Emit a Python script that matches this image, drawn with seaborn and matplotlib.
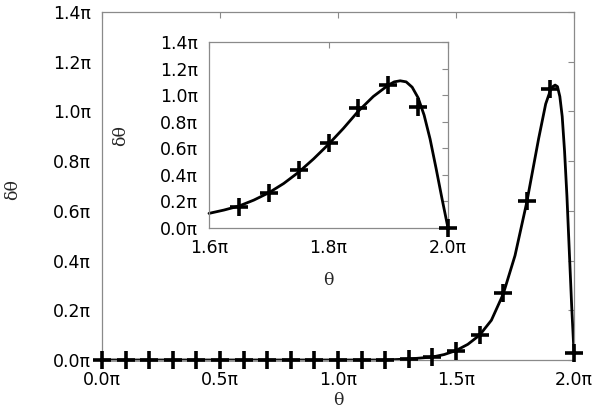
import matplotlib
matplotlib.use("Agg")
import matplotlib.pyplot as plt
import seaborn as sns

# ---- data (theta and dtheta in units of pi) ----
main_marker_theta = [0.0, 0.1, 0.2, 0.3, 0.4, 0.5, 0.6, 0.7, 0.8, 0.9, 1.0,
                     1.1, 1.2, 1.3, 1.4, 1.5, 1.6, 1.7, 1.8, 1.9, 2.0]
main_marker_dtheta = [0.0, 0.0, 0.0, 0.0, 0.0, 0.0, 0.0, 0.0, 0.0, 0.0, 0.0,
                      0.0, 0.0, 0.005, 0.012, 0.036, 0.10, 0.27, 0.64, 1.09, 0.03]

main_curve_theta = [0.0, 0.5, 1.0, 1.2, 1.3, 1.4, 1.45, 1.5, 1.55, 1.6, 1.65,
                    1.7, 1.75, 1.8, 1.85, 1.88, 1.9, 1.91, 1.92, 1.93, 1.94, 1.95, 1.96,
                    1.97, 1.98, 1.99, 2.0]
main_curve_dtheta = [0.0, 0.0, 0.0, 0.0, 0.004, 0.012, 0.022, 0.038, 0.063, 0.10, 0.16,
                     0.265, 0.42, 0.635, 0.89, 1.03, 1.085, 1.10, 1.106, 1.10, 1.06, 0.98, 0.84,
                     0.66, 0.44, 0.22, 0.03]

inset_marker_theta = [1.65, 1.70, 1.75, 1.80, 1.85, 1.90, 1.95, 2.00]
inset_marker_dtheta = [0.16, 0.26, 0.44, 0.64, 0.90, 1.08, 0.91, 0.0]

inset_curve_theta = [1.6, 1.625, 1.65, 1.675, 1.7, 1.725, 1.75, 1.775, 1.8, 1.825,
                     1.85, 1.875, 1.9, 1.91, 1.92, 1.93, 1.94, 1.95, 1.96, 1.97,
                     1.98, 1.99, 2.0]
inset_curve_dtheta = [0.11, 0.135, 0.165, 0.21, 0.265, 0.335, 0.42, 0.52, 0.63, 0.75,
                      0.88, 0.99, 1.075, 1.10, 1.108, 1.10, 1.06, 0.98, 0.85, 0.67,
                      0.45, 0.22, 0.0]

main_xticks = [0.0, 0.5, 1.0, 1.5, 2.0]
main_yticks = [0.0, 0.2, 0.4, 0.6, 0.8, 1.0, 1.2, 1.4]
inset_xticks = [1.6, 1.8, 2.0]
inset_yticks = [0.0, 0.2, 0.4, 0.6, 0.8, 1.0, 1.2, 1.4]

sns.set_style("white")
plt.rcParams['font.family'] = ['DejaVu Sans']

fig = plt.figure(figsize=(5.93, 4.12), dpi=100)
ax = fig.add_axes([102/593, 52/412, 472/593, 348/412])
axin = fig.add_axes([209/593, 184/412, 239/593, 186/412])

spine_col = "#8a8a8a"


def style(a, xt, yt, xlim, ylim):
    a.set_xlim(*xlim)
    a.set_ylim(*ylim)
    a.set_xticks(xt)
    a.set_xticklabels([f"{v:.1f}\u03c0" for v in xt])
    a.set_yticks(yt)
    a.set_yticklabels([f"{v:.1f}\u03c0" for v in yt])
    a.tick_params(direction="in", top=True, right=True, length=4, width=0.8,
                  color=spine_col, labelsize=12.5, pad=8, labelcolor="black")
    for s in a.spines.values():
        s.set_color(spine_col)
        s.set_linewidth(0.9)
        s.set_visible(True)


def draw(a, ct, cd, mt, md):
    sns.lineplot(x=ct, y=cd, ax=a, color="black", linewidth=2.0, sort=False,
                 estimator=None, clip_on=False)
    sns.scatterplot(x=mt, y=md, ax=a, marker="+", s=150, linewidth=2.6,
                    color="black", clip_on=False, zorder=5)


draw(ax, main_curve_theta, main_curve_dtheta, main_marker_theta, main_marker_dtheta)
style(ax, main_xticks, main_yticks, (0, 2.0), (0, 1.4))
ax.set_xlabel("\u03b8", family="DejaVu Serif", fontsize=12.5)
ax.set_ylabel("\u03b4\u03b8", family="DejaVu Serif", fontsize=12.5)
ax.xaxis.set_label_coords(0.5, -0.092)
ax.yaxis.set_label_coords(-0.172, 0.49)

draw(axin, inset_curve_theta, inset_curve_dtheta, inset_marker_theta, inset_marker_dtheta)
style(axin, inset_xticks, inset_yticks, (1.6, 2.0), (0, 1.4))
axin.set_xlabel("\u03b8", family="DejaVu Serif", fontsize=12.5)
axin.set_ylabel("\u03b4\u03b8", family="DejaVu Serif", fontsize=12.5)
axin.xaxis.set_label_coords(0.5, -0.235)
axin.yaxis.set_label_coords(-0.335, 0.495)

fig.savefig("out.png", dpi=100)
